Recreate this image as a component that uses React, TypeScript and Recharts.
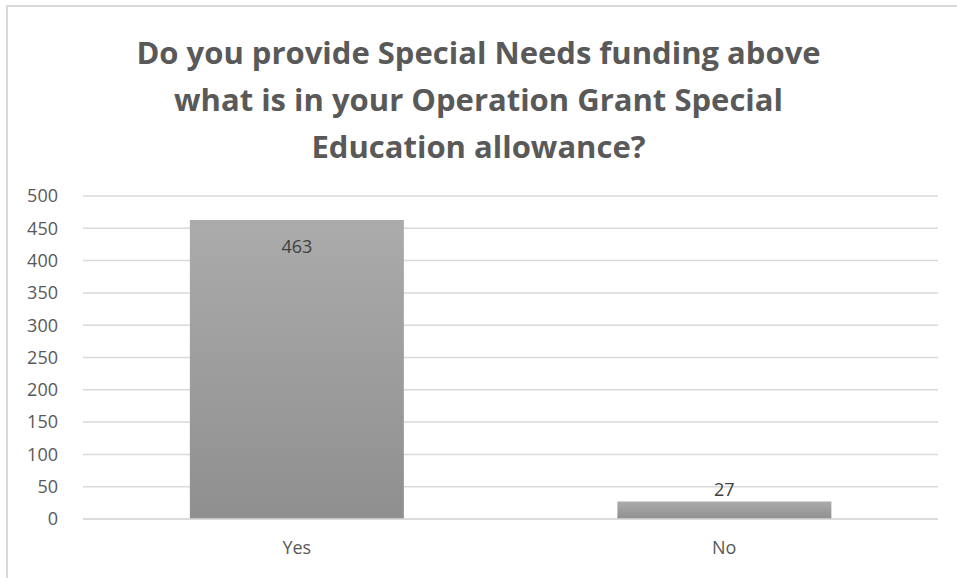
import { Bar, BarChart, CartesianGrid, XAxis, YAxis, LabelList } from 'recharts'

const categories = ['Yes', 'No']
const responses = [463, 27]
const yTicks = [0, 50, 100, 150, 200, 250, 300, 350, 400, 450, 500]

const titleLines = [
    'Do you provide Special Needs funding above',
    'what is in your Operation Grant Special',
    'Education allowance?',
]

const data = categories.map((name, i) => ({ name, value: responses[i] }))

const FONT = "'Open Sans', sans-serif"
const TEXT = '#595959'

const renderLabel = (props: any) => {
    const { x, y, width, height, value } = props
    const inside = height > 40
    return (
        <text
            x={x + width / 2}
            y={inside ? y + 28 : y - 10}
            textAnchor="middle"
            dominantBaseline="middle"
            fill="#404040"
            fontSize={18}
            fontFamily={FONT}
        >
            {value}
        </text>
    )
}

const App = () => {
    return (
        <div style={{ position: 'absolute', left: 0, top: 0, width: 957, height: 578, background: '#fff', overflow: 'hidden' }}>
            <div style={{ position: 'absolute', left: 6, top: 5, width: 980, height: 600, border: '2px solid #d9d9d9' }} />
            <div
                style={{
                    position: 'absolute',
                    left: 0,
                    top: 29,
                    width: 957,
                    textAlign: 'center',
                    fontFamily: FONT,
                    fontWeight: 700,
                    fontSize: 31,
                    lineHeight: '47px',
                    color: TEXT,
                }}
            >
                {titleLines.map((line) => (
                    <div key={line}>{line}</div>
                ))}
            </div>
            <div style={{ position: 'absolute', left: 0, top: 0 }}>
                <BarChart width={957} height={578} data={data} margin={{ top: 196, right: 19, bottom: 29, left: 0 }} barCategoryGap="25%">
                    <defs>
                        <linearGradient id="barFill" x1="0" y1="0" x2="0" y2="1">
                            <stop offset="0%" stopColor="#ababab" />
                            <stop offset="100%" stopColor="#8f8f8f" />
                        </linearGradient>
                    </defs>
                    <CartesianGrid vertical={false} stroke="#d9d9d9" strokeWidth={1.5} />
                    <XAxis
                        dataKey="name"
                        height={30}
                        axisLine={{ stroke: '#d9d9d9', strokeWidth: 1.5 }}
                        tickLine={false}
                        tickSize={0}
                        tickMargin={22}
                        tick={{ fill: TEXT, fontSize: 18, fontFamily: FONT }}
                    />
                    <YAxis
                        width={83}
                        domain={[0, 500]}
                        ticks={yTicks}
                        axisLine={false}
                        tickLine={false}
                        tickSize={0}
                        tickMargin={25}
                        tick={{ fill: TEXT, fontSize: 18, fontFamily: FONT }}
                    />
                    <Bar dataKey="value" fill="url(#barFill)" isAnimationActive={false}>
                        <LabelList dataKey="value" content={renderLabel} />
                    </Bar>
                </BarChart>
            </div>
        </div>
    )
}

export default App
